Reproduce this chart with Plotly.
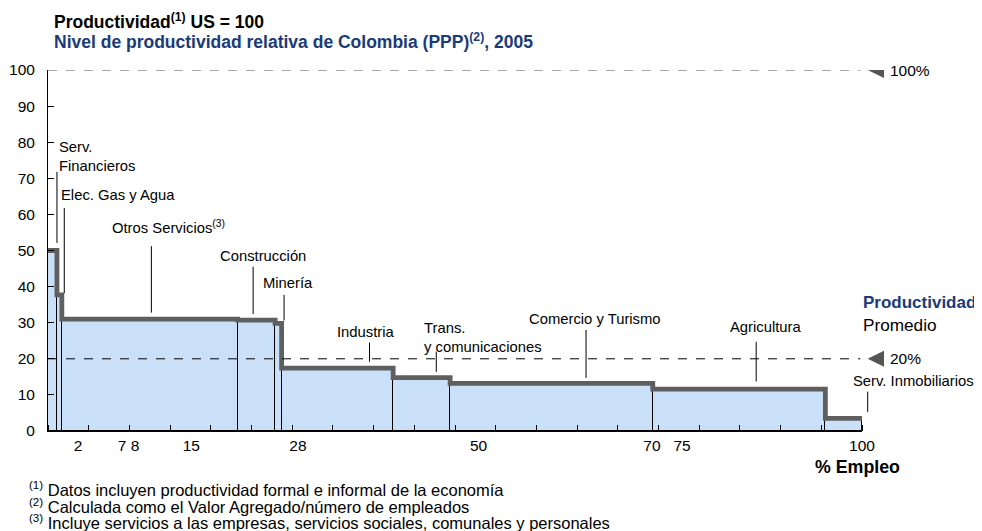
"""Productividad relativa de Colombia por sector (US = 100), 2005."""

import plotly.graph_objects as go

# Sector data: share of employment (%) and relative productivity (US = 100)
sectores = [
    "Serv. Financieros", "Elec. Gas y Agua", "Otros Servicios", "Construcción",
    "Minería", "Industria", "Trans. y comunicaciones", "Comercio y Turismo",
    "Agricultura", "Serv. Inmobiliarios",
]
empleo = [1.1, 0.6, 21.6, 4.6, 0.8, 13.7, 7.0, 24.9, 21.2, 4.5]
productividad = [50.0, 37.7, 31.0, 30.7, 29.8, 17.4, 14.8, 13.2, 11.6, 3.5]

# x tick labels as printed in the original
xtick_text = ["2", "7 8", "15", "28", "50", "70", "75", "100"]
xtick_vals = [3.7, 9.9, 17.6, 30.7, 52.9, 74.2, 77.9, 100]

# reference levels (US = 100, promedio = 20)
ref_niveles = [100, 20]
ref_text = ["100%", "20%"]

FONT = "Arial, Liberation Sans, sans-serif"
NAVY = "#1b3a78"
FILL = "#c9e0f8"
STEP = "#5f5f5f"

# cumulative edges
bordes = [0.0]
for e in empleo:
    bordes.append(bordes[-1] + e)
centros = [(bordes[i] + bordes[i + 1]) / 2 for i in range(len(empleo))]

fig = go.Figure()

fig.add_trace(go.Bar(
    x=centros, y=productividad, width=empleo,
    marker=dict(color=FILL, line=dict(color="black", width=1)),
    hovertext=sectores, showlegend=False,
))

# thick step outline on top
fig.add_trace(go.Scatter(
    x=bordes, y=productividad + [productividad[-1]],
    mode="lines", line=dict(color=STEP, width=4.8, shape="hv"),
    showlegend=False, hoverinfo="skip",
))

# reference dashed lines, triangle markers and labels (outside the plot on the right)
for nivel, texto, color in zip(ref_niveles, ref_text, ["#555555", "black"]):
    fig.add_shape(type="line", xref="paper", yref="y", x0=0, x1=0.998,
                  y0=nivel, y1=nivel, line=dict(color=color, width=1, dash="dash"))
    fig.add_shape(type="path", xref="paper", yref="y",
                  path=f"M 1.0070,{nivel} L 1.0270,{nivel + 2.2} L 1.0270,{nivel - 2.2} Z",
                  fillcolor="#555555", line=dict(width=0))
    fig.add_annotation(xref="paper", yref="y", x=1.032, y=nivel, text=texto,
                       showarrow=False, xanchor="left", yanchor="middle",
                       font=dict(size=15.5, color="black", family=FONT))

# sector labels with pointer lines: (text, x, y, anchor, pointer x, y top, y bottom)
etiquetas = [
    ("Serv.<br>Financieros", 1.1, 76.0, "left", 1.1, 71.8, 52.1),
    ("Elec. Gas y Agua", 1.4, 65.4, "left", 2.0, 61.8, 38.2),
    ("Otros Servicios<sup>(3)</sup>", 7.6, 56.4, "left", 12.7, 51.2, 32.8),
    ("Construcción", 26.4, 48.6, "center", 25.2, 45.5, 32.4),
    ("Minería", 29.5, 40.9, "center", 29.0, 37.7, 30.6),
    ("Industria", 39.1, 27.5, "center", 39.5, 24.5, 19.2),
    ("Trans.<br>y comunicaciones", 46.0, 26.0, "left", 47.7, 22.0, 16.4),
    ("Comercio y Turismo", 67.2, 31.0, "center", 66.1, 28.0, 14.7),
    ("Agricultura", 88.2, 28.9, "center", 87.0, 24.7, 13.7),
    ("Serv. Inmobiliarios", 106.3, 13.9, "center", 100.7, 10.9, 5.3),
]
for texto, tx, ty, anchor, lx, ly0, ly1 in etiquetas:
    fig.add_annotation(xref="paper", yref="y", x=tx / 100, y=ty, text=texto,
                       showarrow=False, xanchor=anchor, yanchor="middle", align="left",
                       font=dict(size=14.8, color="black", family=FONT))
    fig.add_shape(type="line", xref="paper", yref="y", x0=lx / 100, x1=lx / 100,
                  y0=ly0, y1=ly1, line=dict(color="black", width=1))


def px(xp, yp):
    """page pixel position -> paper coords"""
    return (xp - 47.7) / 814.0, (431 - yp) / 361.0


def note(xp, yp, text, size=16.5, color="black", anchor="left"):
    x, y = px(xp, yp)
    fig.add_annotation(xref="paper", yref="paper", x=x, y=y, text=text, showarrow=False,
                       xanchor=anchor, yanchor="middle",
                       font=dict(size=size, color=color, family=FONT))


note(52, 21, "<b>Productividad<sup>(1)</sup> US = 100</b>", size=17.5)
note(52, 41, "<b>Nivel de productividad relativa de Colombia (PPP)<sup>(2)</sup>, 2005</b>",
     size=17.5, color=NAVY)
note(861, 302, "<b>Productividad</b>", size=17, color=NAVY)
note(861, 325, "Promedio", size=17.2)
note(857, 467, "<b>% Empleo</b>", size=17.8, anchor="center")
note(27, 489, "<sup>(1)</sup> Datos incluyen productividad formal e informal de la economía")
note(27, 506, "<sup>(2)</sup> Calculada como el Valor Agregado/número de empleados")
note(27, 522, "<sup>(3)</sup> Incluye servicios a las empresas, servicios sociales, comunales y personales")

fig.update_xaxes(
    range=[0, 100], tickmode="array", tickvals=xtick_vals, ticktext=xtick_text,
    ticks="", showgrid=False, zeroline=False, showline=True, linecolor="black",
    linewidth=1, tickfont=dict(size=15.5, color="black", family=FONT), automargin=False,
    minor=dict(tickmode="linear", tick0=0, dtick=5, ticks="inside", ticklen=6,
               tickcolor="black", showgrid=False),
)
fig.update_yaxes(
    range=[0, 100], dtick=10, ticks="inside", ticklen=6, tickcolor="black",
    showgrid=False, zeroline=False, showline=True, linecolor="black", linewidth=1,
    tickfont=dict(size=15.5, color="black", family=FONT), ticklabelstandoff=9,
    automargin=False,
)

# the page body has an 8px margin, so the figure is 8px smaller and offset
fig.update_layout(
    width=974, height=523,
    margin=dict(l=40, r=120, t=62, b=100),
    paper_bgcolor="white", plot_bgcolor="white",
    bargap=0, showlegend=False,
    font=dict(family=FONT, size=15, color="black"),
)

fig.write_html("out.html")
